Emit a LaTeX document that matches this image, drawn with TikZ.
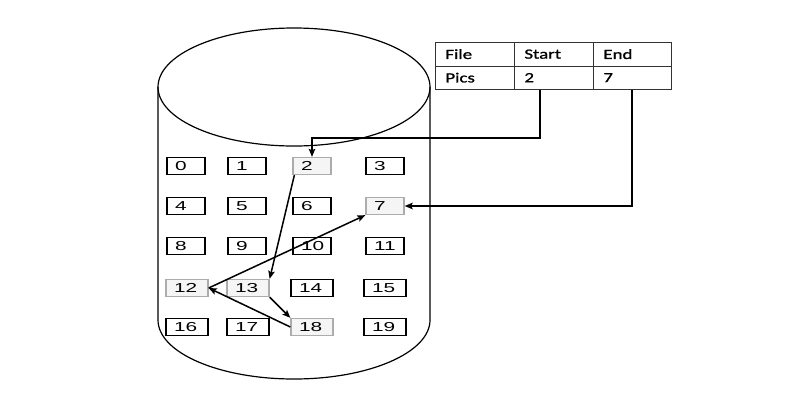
\documentclass[tikz,border=0pt]{standalone}
\usepackage{fontspec}
\setmainfont{Liberation Sans}
\newfontfamily\boxfont[FakeStretch=1.6]{Liberation Sans}
\newfontfamily\tabfont[FakeStretch=1.35,FakeBold=1.2]{Carlito}
\usetikzlibrary{arrows.meta}
\tikzset{
  blk/.style={draw, line width=1.3pt, minimum height=17pt, inner xsep=8pt, inner ysep=0pt, text width=22pt, align=left, font=\boxfont\fontsize{13}{13}\selectfont},
  wblk/.style={blk, text width=26pt},
  hl/.style={draw=gray!65, fill=gray!8},
  cell/.style={draw=black!80, line width=0.8pt, minimum height=23.5pt, inner xsep=10pt, inner ysep=0pt, anchor=north west, align=left, font=\tabfont\fontsize{14}{14}\selectfont},
  arr/.style={line width=1.5pt, -{Stealth[length=8pt,width=6.5pt,inset=1.5pt]}},
  cyl/.style={line width=1.2pt}
}
\begin{document}
\begin{tikzpicture}[x=1pt,y=1pt]
\useasboundingbox (0,0) rectangle (792,-413);
% cylinder
\draw[cyl] (294,-87) ellipse [x radius=136, y radius=59];
\draw[cyl] (158,-87) -- (158,-320) arc[start angle=180, end angle=360, x radius=136, y radius=59] -- (430,-87);
% blocks
\node[blk] (n0) at (186,-166) {0};
\node[blk] (n1) at (247,-166) {1};
\node[blk,hl] (n2) at (312,-166) {2};
\node[blk] (n3) at (385,-166) {3};
\node[blk] (n4) at (186,-206) {4};
\node[blk] (n5) at (247,-206) {5};
\node[blk] (n6) at (312,-206) {6};
\node[blk,hl] (n7) at (385,-206) {7};
\node[blk] (n8) at (186,-246) {8};
\node[blk] (n9) at (247,-246) {9};
\node[blk] (n10) at (312,-246) {10};
\node[blk] (n11) at (385,-246) {11};
\node[wblk,hl] (n12) at (187,-288) {12};
\node[wblk,hl] (n13) at (248,-288) {13};
\node[wblk] (n14) at (312,-288) {14};
\node[wblk] (n15) at (385,-288) {15};
\node[wblk] (n16) at (187,-327) {16};
\node[wblk] (n17) at (248,-327) {17};
\node[wblk,hl] (n18) at (312,-327) {18};
\node[wblk] (n19) at (385,-327) {19};
% table
\node[cell, text width=59pt] (c11) at (435,-42) {File};
\node[cell, text width=59pt] (c12) at (514,-42) {Start};
\node[cell, text width=58pt] (c13) at (593,-42) {End};
\node[cell, text width=59pt] (c21) at (435,-65.5) {Pics};
\node[cell, text width=59pt] (c22) at (514,-65.5) {2};
\node[cell, text width=58pt] (c23) at (593,-65.5) {7};
% connectors
\coordinate (sp) at ([xshift=26pt]c22.south west);
\coordinate (ep) at ([xshift=39pt]c23.south west);
\draw[arr] (sp) -- ++(0,-48) -| (n2.north);
\draw[arr] (ep) |- (n7.east);
\draw[arr] ([xshift=2pt]n2.south west) -- (n13.north east);
\draw[arr] (n13.south east) -- (n18.north west);
\draw[arr] (n18.west) -- (n12.east);
\draw[arr] (n12.east) -- (n7.south west);
\end{tikzpicture}
\end{document}
